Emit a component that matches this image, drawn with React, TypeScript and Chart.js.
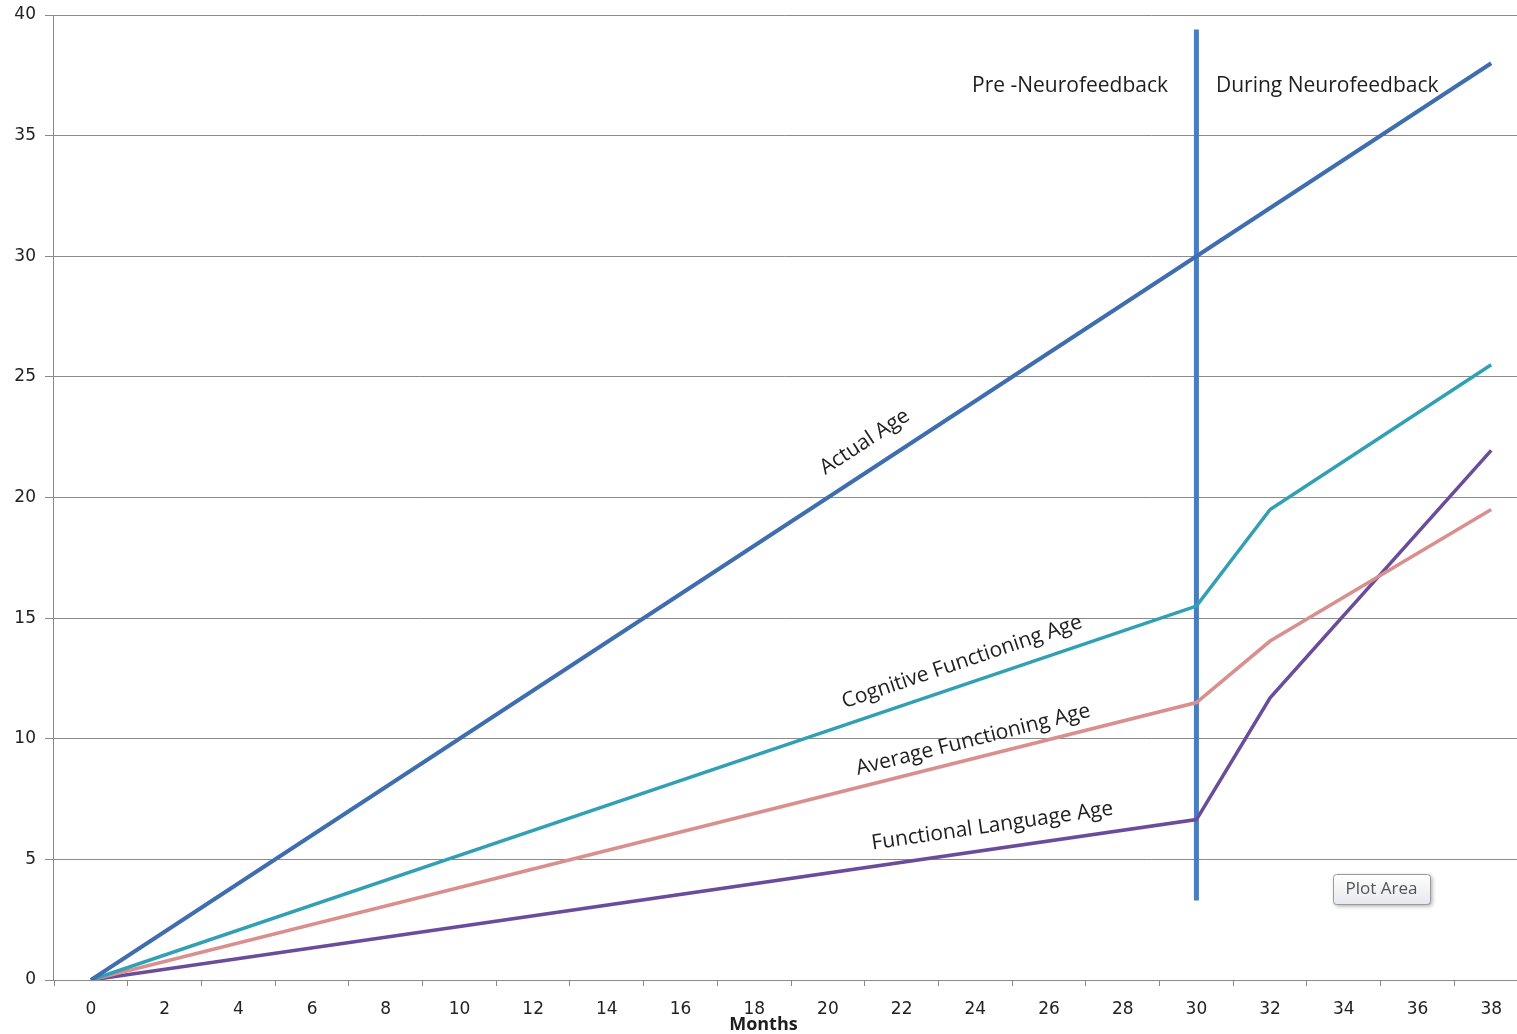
import React, { useEffect, useRef } from 'react';
import { Chart, registerables } from 'chart.js';

Chart.register(...registerables);

// ---- data ----
const months = [0, 30, 32, 38];
const actualAge = [0, 30, 32, 38];
const cognitiveAge = [0, 15.5, 19.5, 25.5];
const averageAge = [0, 11.5, 14.05, 19.5];
const languageAge = [0, 6.65, 11.7, 21.95];

const dividerMonths = [30, 30];
const dividerValues = [3.3, 39.4];

const xTickLabels = [0, 2, 4, 6, 8, 10, 12, 14, 16, 18, 20, 22, 24, 26, 28, 30, 32, 34, 36, 38];
const yTickValues = [0, 5, 10, 15, 20, 25, 30, 35, 40];

const seriesLabels = ['Actual Age', 'Cognitive Functioning Age', 'Average Functioning Age', 'Functional Language Age'];
// label anchor (month, value) for the rotated line labels
const labelMonths = [21.0, 23.64, 23.94, 24.46];
const labelValues = [22.3, 13.18, 9.95, 6.38];

const phaseLabels = ['Pre -Neurofeedback', 'During Neurofeedback'];
const phaseMonths = [26.57, 33.55];
const phaseValue = 37.05;

const colors = ['#3F6EB0', '#31A0B4', '#D98F8D', '#6A4C9C'];
const GRID = '#8a8a8a';

const toPts = (xs: number[], ys: number[]) => xs.map((x, i) => ({ x, y: ys[i] }));

const annotationPlugin = {
  id: 'annotations',
  afterDatasetsDraw(chart: any) {
    const { ctx, scales } = chart;
    const xs = scales.x;
    const ys = scales.y;
    const series = [actualAge, cognitiveAge, averageAge, languageAge];
    ctx.save();
    ctx.fillStyle = '#1e1e1e';
    ctx.font = '21px "Open Sans", "Noto Sans", sans-serif';
    ctx.textAlign = 'center';
    ctx.textBaseline = 'middle';
    series.forEach((s, i) => {
      const x0 = xs.getPixelForValue(months[0]);
      const y0 = ys.getPixelForValue(s[0]);
      const x1 = xs.getPixelForValue(months[1]);
      const y1 = ys.getPixelForValue(s[1]);
      const ang = Math.atan2(y1 - y0, x1 - x0);
      const px = xs.getPixelForValue(labelMonths[i]);
      const py = ys.getPixelForValue(labelValues[i]);
      ctx.save();
      ctx.translate(px, py);
      ctx.rotate(ang);
      ctx.fillText(seriesLabels[i], 0, 0);
      ctx.restore();
    });
    ctx.font = '21px "Open Sans", "Noto Sans", sans-serif';
    phaseLabels.forEach((t, i) => {
      ctx.fillText(t, xs.getPixelForValue(phaseMonths[i]), ys.getPixelForValue(phaseValue));
    });
    ctx.font = 'bold 18px "Open Sans", "Noto Sans", sans-serif';
    ctx.fillText('Months', xs.getPixelForValue(18.25), 1025);

    // "Plot Area" tooltip box
    const bx = 1333, by = 874, bw = 97, bh = 30;
    ctx.save();
    ctx.shadowColor = 'rgba(0,0,0,0.35)';
    ctx.shadowBlur = 4;
    ctx.shadowOffsetX = 2;
    ctx.shadowOffsetY = 2;
    const g = ctx.createLinearGradient(0, by, 0, by + bh);
    g.addColorStop(0, '#ffffff');
    g.addColorStop(1, '#e6e8ec');
    ctx.fillStyle = g;
    ctx.beginPath();
    ctx.roundRect(bx, by, bw, bh, 3);
    ctx.fill();
    ctx.restore();
    ctx.strokeStyle = '#9a9a9a';
    ctx.lineWidth = 1;
    ctx.beginPath();
    ctx.roundRect(bx + 0.5, by + 0.5, bw, bh, 3);
    ctx.stroke();
    ctx.fillStyle = '#555555';
    ctx.font = '17px "Open Sans", "Noto Sans", sans-serif';
    ctx.fillText('Plot Area', bx + bw / 2, by + bh / 2);
    ctx.restore();
  },
};

export default function App() {
  const ref = useRef<HTMLCanvasElement | null>(null);

  useEffect(() => {
    document.body.style.margin = '0';
    const canvas = ref.current;
    if (!canvas) return;
    const chart = new Chart(canvas, {
      type: 'line',
      data: {
        datasets: [
          { label: seriesLabels[0], data: toPts(months, actualAge), borderColor: colors[0], borderWidth: 4 },
          { label: seriesLabels[1], data: toPts(months, cognitiveAge), borderColor: colors[1], borderWidth: 3.5 },
          { label: seriesLabels[2], data: toPts(months, averageAge), borderColor: colors[2], borderWidth: 3.5 },
          { label: seriesLabels[3], data: toPts(months, languageAge), borderColor: colors[3], borderWidth: 3.5 },
          { label: 'divider', data: toPts(dividerMonths, dividerValues), borderColor: '#4A7DC0', borderWidth: 5 },
        ].map((d) => ({ ...d, pointRadius: 0, fill: false, tension: 0, borderCapStyle: 'butt' as const })),
      },
      options: {
        responsive: false,
        animation: false,
        layout: { padding: { top: 15, right: 0, left: 0, bottom: 0 } },
        plugins: { legend: { display: false }, tooltip: { enabled: false } },
        scales: {
          x: {
            type: 'linear',
            min: -1.03,
            max: 38.7,
            afterBuildTicks: (s: any) => {
              const t = [];
              for (let v = -1; v <= 38; v++) t.push({ value: v });
              s.ticks = t;
            },
            afterFit: (s: any) => { s.height = 54; s.paddingLeft = 0; s.paddingRight = 0; },
            border: { color: GRID, width: 1 },
            grid: {
              drawOnChartArea: false,
              drawTicks: true,
              tickLength: 6,
              tickColor: (c: any) => (Math.abs(c.tick?.value % 2) === 1 ? GRID : 'rgba(0,0,0,0)'),
            },
            ticks: {
              autoSkip: false,
              maxRotation: 0,
              padding: 13,
              color: '#222',
              font: { family: '"DejaVu Sans", Verdana, sans-serif', size: 17 },
              callback: (v: any) => (xTickLabels.includes(Number(v)) ? String(v) : ''),
            },
          },
          y: {
            type: 'linear',
            min: 0,
            max: 40,
            afterFit: (s: any) => { s.width = 53; s.paddingTop = 0; s.paddingBottom = 0; },
            afterBuildTicks: (s: any) => { s.ticks = yTickValues.map((v) => ({ value: v })); },
            border: { color: GRID, width: 1 },
            grid: { color: GRID, lineWidth: 1, tickLength: 8, tickColor: GRID },
            ticks: {
              padding: 9,
              color: '#222',
              font: { family: '"DejaVu Sans", Verdana, sans-serif', size: 17 },
            },
          },
        },
      },
      plugins: [annotationPlugin],
    });
    return () => chart.destroy();
  }, []);

  return <canvas ref={ref} width={1517} height={1034} style={{ display: 'block' }} />;
}
